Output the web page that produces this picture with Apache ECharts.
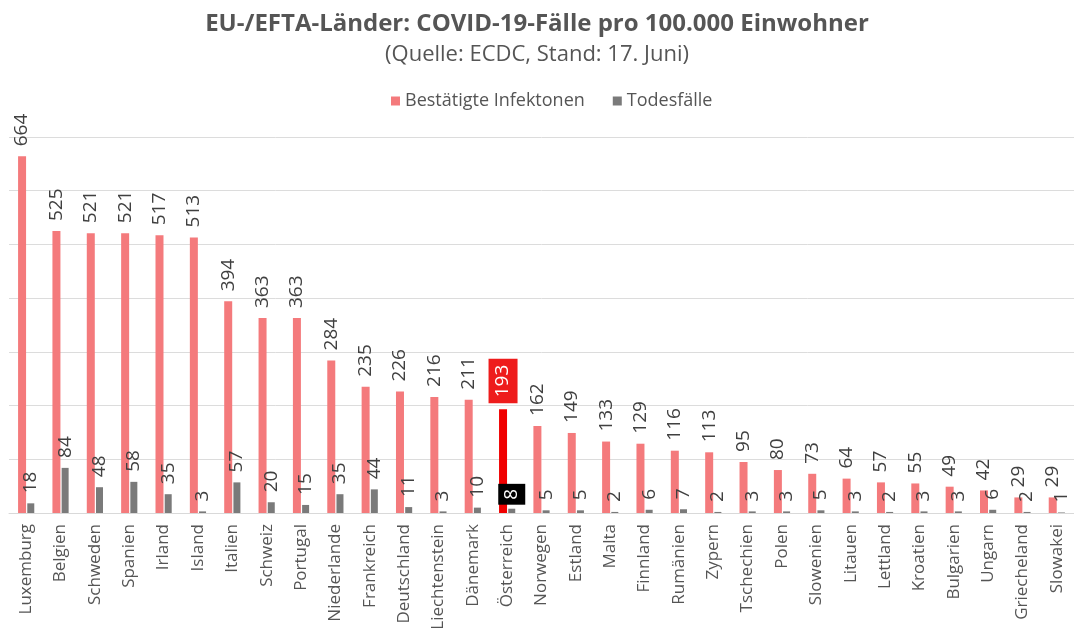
<!DOCTYPE html>
<html>
<head>
<meta charset="utf-8">
<script src="https://cdn.jsdelivr.net/npm/echarts@6/dist/echarts.min.js"></script>
<style>
    html, body {margin: 0; padding: 0; background: #fff;}
    #main {width: 1074px; height: 639px;}
</style>
</head>
<body>
<div id="main"></div>
<script>
// Länder und Werte (pro 100.000 Einwohner)
var countries = ['Luxemburg', 'Belgien', 'Schweden', 'Spanien', 'Irland', 'Island', 'Italien', 'Schweiz',
    'Portugal', 'Niederlande', 'Frankreich', 'Deutschland', 'Liechtenstein', 'Dänemark', 'Österreich',
    'Norwegen', 'Estland', 'Malta', 'Finnland', 'Rumänien', 'Zypern', 'Tschechien', 'Polen', 'Slowenien',
    'Litauen', 'Lettland', 'Kroatien', 'Bulgarien', 'Ungarn', 'Griecheland', 'Slowakei'];
var infections = [664, 525, 521, 521, 517, 513, 394, 363, 363, 284, 235, 226, 216, 211, 193,
    162, 149, 133, 129, 116, 113, 95, 80, 73, 64, 57, 55, 49, 42, 29, 29];
var deaths = [18, 84, 48, 58, 35, 3, 57, 20, 15, 35, 44, 11, 3, 10, 8,
    5, 5, 2, 6, 7, 2, 3, 3, 5, 3, 2, 3, 3, 6, 2, 1];
var yTicks = [0, 100, 200, 300, 400, 500, 600, 700];

var highlight = countries.indexOf('Österreich');
var fontFam = '"Open Sans", sans-serif';

// Österreich hervorheben
var infData = infections.map(function (v, i) {
    if (i != highlight) return v;
    return {
        value: v,
        itemStyle: {color: '#f00000'},
        label: {
            color: '#fff', backgroundColor: '#ee1c1c',
            padding: [5, 6, 5, 6], distance: 6
        }
    };
});
var deathData = deaths.map(function (v, i) {
    if (i != highlight) return v;
    return {
        value: v,
        label: {
            color: '#fff', backgroundColor: '#000',
            padding: [4, 5, 4, 5], distance: 4
        }
    };
});

var valueLabel = {
    show: true,
    position: 'top',
    rotate: 90,
    align: 'left',
    verticalAlign: 'middle',
    distance: 10,
    fontSize: 19,
    color: '#404040',
    fontFamily: fontFam
};

var chart = echarts.init(document.getElementById('main'));
var option = {
    backgroundColor: '#fff',
    animation: false,
    title: [
        {
            text: 'EU-/EFTA-Länder: COVID-19-Fälle pro 100.000 Einwohner',
            left: 'center', top: 7,
            textStyle: {fontSize: 24, fontWeight: 'bold', color: '#555', fontFamily: fontFam}
        },
        {
            text: '(Quelle: ECDC, Stand: 17. Juni)',
            left: 'center', top: 39,
            textStyle: {fontSize: 22, fontWeight: 'normal', color: '#555', fontFamily: fontFam}
        }
    ],
    legend: {
        top: 87,
        left: 386,
        icon: 'rect',
        itemWidth: 9,
        itemHeight: 9,
        itemGap: 28,
        textStyle: {fontSize: 18, color: '#555', fontFamily: fontFam},
        data: ['Bestätigte Infektonen', 'Todesfälle']
    },
    grid: {left: 9, top: 137, width: 1073, height: 376, containLabel: false},
    xAxis: {
        type: 'category',
        data: countries,
        axisLine: {lineStyle: {color: '#d9d9d9', width: 1}},
        axisTick: {show: false},
        axisLabel: {
            rotate: 90, interval: 0, fontSize: 17, color: '#555',
            fontFamily: fontFam, margin: 11
        }
    },
    yAxis: {
        type: 'value',
        min: yTicks[0],
        max: yTicks[yTicks.length - 1],
        interval: 100,
        axisLabel: {show: false},
        axisLine: {show: false},
        axisTick: {show: false},
        splitLine: {lineStyle: {color: '#dcdcdc', width: 1}}
    },
    series: [
        {
            name: 'Bestätigte Infektonen',
            type: 'bar',
            barWidth: 8,
            barGap: '15%',
            itemStyle: {color: '#f47a7c'},
            label: valueLabel,
            data: infData
        },
        {
            name: 'Todesfälle',
            type: 'bar',
            barWidth: 7,
            itemStyle: {color: '#7a7a7a'},
            label: valueLabel,
            data: deathData
        }
    ]
};
chart.setOption(option);
</script>
</body>
</html>
